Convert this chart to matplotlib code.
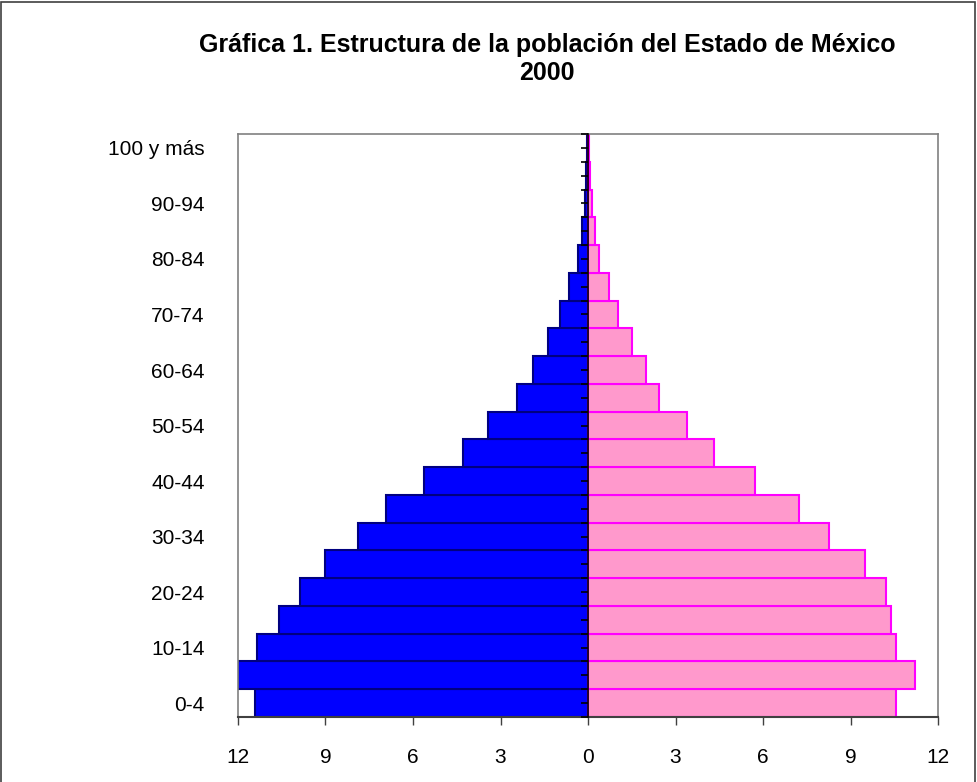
import numpy as np
import matplotlib.pyplot as plt
from matplotlib.patches import Rectangle

plt.rcParams['font.family'] = ['Liberation Sans', 'DejaVu Sans']

# grupos de edad, de abajo hacia arriba
grupos = ['0-4', '5-9', '10-14', '15-19', '20-24', '25-29', '30-34', '35-39',
          '40-44', '45-49', '50-54', '55-59', '60-64', '65-69', '70-74',
          '75-79', '80-84', '85-89', '90-94', '95-99', '100 y más']

# porcentaje de la población
hombres = [11.4, 12.0, 11.35, 10.6, 9.87, 9.02, 7.88, 6.92, 5.63, 4.29, 3.43,
           2.45, 1.9, 1.38, 0.97, 0.66, 0.33, 0.2, 0.1, 0.07, 0.05]
mujeres = [10.56, 11.21, 10.56, 10.39, 10.22, 9.5, 8.27, 7.22, 5.73, 4.32, 3.4,
           2.43, 1.99, 1.51, 1.03, 0.72, 0.37, 0.23, 0.12, 0.08, 0.04]

xticks = [-12, -9, -6, -3, 0, 3, 6, 9, 12]

fig = plt.figure(figsize=(9.77, 7.82), dpi=100)
ax = fig.add_axes([0.2436, 0.0831, 0.7165, 0.7455])

y = np.arange(len(grupos))
ax.barh(y, -np.array(hombres), height=1.0, color='#0000FF',
        edgecolor='#000080', linewidth=1.5, zorder=2)
ax.barh(y, mujeres, height=1.0, color='#FF99CC',
        edgecolor='#FF00FF', linewidth=1.5, zorder=2)

ax.set_xlim(-12, 12)
ax.set_ylim(-0.5, len(grupos) - 0.5)

ax.set_xticks(xticks)
ax.set_xticklabels([str(abs(v)) for v in xticks])
ax.tick_params(axis='x', direction='out', length=6, width=1, color='#404040',
               pad=16, labelsize=15)

ax.set_yticks(y[::2])
ax.set_yticklabels(grupos[::2])
ax.tick_params(axis='y', length=0, pad=24, labelsize=15)

for s in ['top', 'left', 'right']:
    ax.spines[s].set_color('#808080')
    ax.spines[s].set_linewidth(1.2)
ax.spines['bottom'].set_color('#404040')
ax.spines['bottom'].set_linewidth(1.5)

# eje central con marcas
eje = ax.secondary_yaxis(0.5)
eje.set_zorder(5)
eje.set_yticks(np.arange(-0.5, len(grupos), 0.5))
eje.set_yticklabels([])
eje.tick_params(direction='in', length=5, width=1.2, color='black')
for s in eje.spines.values():
    s.set_color('black')
    s.set_linewidth(1.2)

fig.text(0.56, 0.9246, 'Gráfica 1. Estructura de la población del Estado de México\n2000',
         ha='center', va='center', fontsize=18, fontweight='bold', linespacing=1.2)

fig.patches.append(Rectangle((0.0015, -0.01), 0.996, 1.008, transform=fig.transFigure,
                             fill=False, edgecolor='#404040', linewidth=1.2))

fig.savefig('out.png', dpi=100)
